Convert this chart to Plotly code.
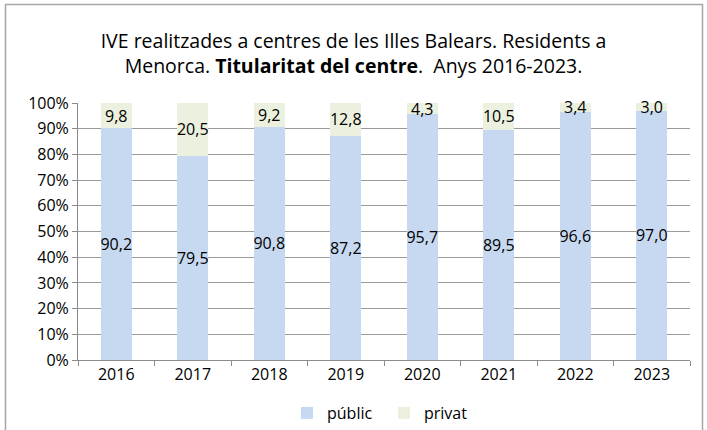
import plotly.graph_objects as go

years = ["2016", "2017", "2018", "2019", "2020", "2021", "2022", "2023"]
publico = [90.2, 79.5, 90.8, 87.2, 95.7, 89.5, 96.6, 97.0]
privat = [9.8, 20.5, 9.2, 12.8, 4.3, 10.5, 3.4, 3.0]
ytick_vals = [0, 10, 20, 30, 40, 50, 60, 70, 80, 90, 100]
ytick_text = [f"{v}%" for v in ytick_vals]

def fmt(v):
    return f"{v:.1f}".replace(".", ",")

FONT = "Open Sans"

fig = go.Figure()
fig.add_trace(go.Bar(
    x=years, y=publico, name="públic",
    marker=dict(color="#c6d9f1", line=dict(width=0)),
    text=[fmt(v) for v in publico], textposition="inside",
    insidetextanchor="middle", textangle=0, cliponaxis=False,
    textfont=dict(family=FONT, size=16, color="#000000"),
))
fig.add_trace(go.Bar(
    x=years, y=privat, name="privat",
    marker=dict(color="#ebf1de", line=dict(width=0)),
    text=[fmt(v) for v in privat], textposition="inside",
    insidetextanchor="middle", textangle=0, cliponaxis=False,
    textfont=dict(family=FONT, size=16, color="#000000"),
))

L, R, T, B = 78, 17, 103, 70
W, H = 707, 430
pw, ph = W - L - R, H - T - B

def px_x(x):
    return (x - L) / pw

def px_y(y):
    return (H - B - y) / ph

fig.update_layout(
    width=W, height=H,
    barmode="stack", bargap=0.59,
    margin=dict(l=L, r=R, t=T, b=B, autoexpand=False),
    paper_bgcolor="white", plot_bgcolor="white",
    font=dict(family=FONT, size=16, color="#000000"),
    uniformtext=dict(minsize=16, mode="show"),
    title=dict(
        text="IVE realitzades a centres de les Illes Balears. Residents a<br>Menorca. <b>Titularitat del centre</b>.  Anys 2016-2023.",
        x=0.5, xanchor="center", y=1 - 47.5 / H, yanchor="middle",
        font=dict(family=FONT, size=19.5, color="#000000"),
        automargin=False,
    ),
    xaxis=dict(
        type="category", showgrid=False, showline=True, linecolor="#8c8c8c",
        linewidth=1, ticks="outside", tickson="boundaries", ticklen=5,
        tickcolor="#8c8c8c", tickfont=dict(family=FONT, size=16),
        automargin=False,
    ),
    yaxis=dict(
        range=[0, 100], tickvals=ytick_vals, ticktext=ytick_text,
        showgrid=True, gridcolor="#9a9a9a", gridwidth=1,
        showline=True, linecolor="#8c8c8c", linewidth=1,
        ticks="outside", ticklen=5, tickcolor="#8c8c8c",
        tickfont=dict(family=FONT, size=16), zeroline=False,
        automargin=False,
    ),
    legend=dict(
        orientation="h", x=0.5, xanchor="center", y=px_y(396), yanchor="top",
        font=dict(family=FONT, size=16), itemwidth=30,
        entrywidth=52, entrywidthmode="pixels",
        traceorder="normal",
    ),
    shapes=[
        dict(type="rect", xref="paper", yref="paper",
             x0=px_x(5.5), x1=px_x(702.5), y0=px_y(440), y1=px_y(4.5),
             line=dict(color="#a6a6a6", width=1.5), layer="below"),
    ],
)

fig.write_html(
    "out.html",
    config={"displayModeBar": False},
    post_script="document.body.style.margin='0';document.body.style.overflow='hidden';",
)
